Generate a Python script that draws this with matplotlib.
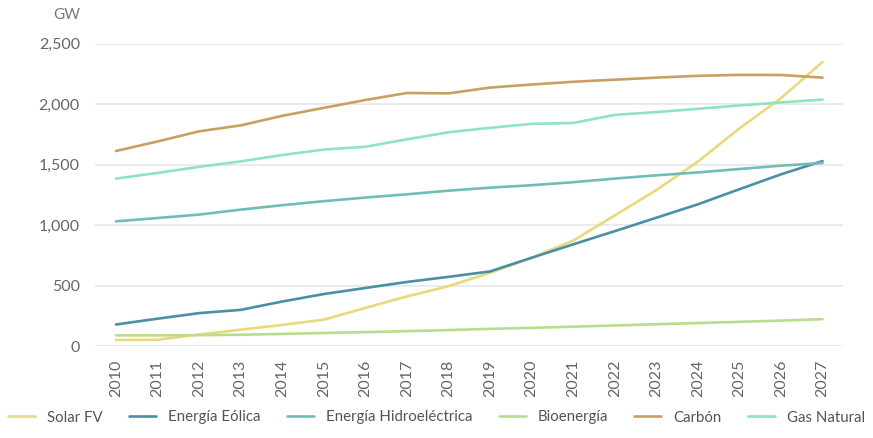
import matplotlib
matplotlib.use("Agg")
import matplotlib.pyplot as plt

plt.rcParams['font.family'] = ['Lato', 'DejaVu Sans']

# Capacidad instalada por tecnología (GW)
years = list(range(2010, 2028))
solar_fv = [50, 52, 95, 135, 175, 218, 315, 410, 495, 605, 730, 872, 1080, 1290, 1525, 1800, 2050, 2350]
eolica = [178, 226, 272, 299, 368, 430, 480, 530, 572, 617, 730, 841, 950, 1061, 1172, 1297, 1420, 1530]
hidro = [1031, 1059, 1087, 1128, 1165, 1198, 1228, 1255, 1285, 1310, 1330, 1355, 1385, 1412, 1436, 1464, 1492, 1514]
bioenergia = [88, 88, 90, 93, 100, 108, 115, 123, 132, 142, 150, 160, 170, 180, 190, 200, 210, 222]
carbon = [1613, 1692, 1776, 1825, 1904, 1970, 2035, 2093, 2090, 2138, 2163, 2186, 2203, 2220, 2235, 2243, 2242, 2220]
gas_natural = [1385, 1432, 1482, 1527, 1580, 1625, 1648, 1710, 1768, 1805, 1838, 1845, 1912, 1935, 1962, 1990, 2015, 2038]

series = [
    ("Solar FV", solar_fv, "#ead97c"),
    ("Energía Eólica", eolica, "#4a8fa6"),
    ("Energía Hidroeléctrica", hidro, "#6fbdb5"),
    ("Bioenergía", bioenergia, "#b9dd8e"),
    ("Carbón", carbon, "#c9a063"),
    ("Gas Natural", gas_natural, "#8fe3c0"),
]

fig = plt.figure(figsize=(8.73, 4.38), dpi=100)
ax = fig.add_axes([0.109, 0.21, 0.857, 0.69])

for name, vals, color in series:
    ax.plot(years, vals, color=color, lw=1.9, label=name, solid_capstyle="round")

ax.set_xlim(2009.5, 2027.5)
ax.set_ylim(0, 2500)
ax.set_yticks([0, 500, 1000, 1500, 2000, 2500])
ax.set_yticklabels(["0", "500", "1,000", "1,500", "2,000", "2,500"])
ax.set_xticks(years)
ax.set_xticklabels([str(y) for y in years], rotation=90)
ax.tick_params(axis="both", length=0, colors="#666666", labelsize=11.5)
ax.tick_params(axis="y", pad=11)
ax.tick_params(axis="x", pad=10)

ax.grid(axis="y", color="#e6e6e6", lw=1.1)
ax.set_axisbelow(True)
for s in ax.spines.values():
    s.set_visible(False)

fig.text(0.061, 0.966, "GW", color="#777777", fontsize=11, va="center")

fig.legend(loc="lower center", bbox_to_anchor=(0.5, 0.0), ncol=6, frameon=False,
           fontsize=10.8, handlelength=1.8, handletextpad=0.8, columnspacing=1.75,
           labelcolor="#555555")

fig.savefig("out.png", dpi=100)
